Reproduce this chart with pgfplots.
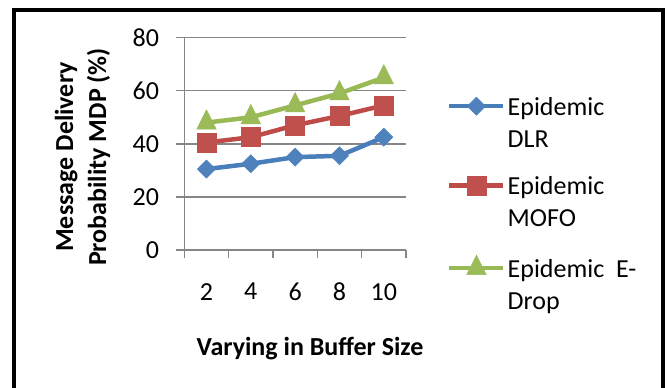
\documentclass[border=0pt]{standalone}
\usepackage{fontspec}
\setmainfont{Carlito}
\usepackage{pgfplots}
\pgfplotsset{compat=1.18}

\definecolor{dlrblue}{HTML}{4F81BD}
\definecolor{dlrline}{HTML}{4A7EBB}
\definecolor{mofored}{HTML}{C0504D}
\definecolor{mofoline}{HTML}{BE4B48}
\definecolor{dropgreen}{HTML}{9BBB59}
\definecolor{dropline}{HTML}{98B954}
\definecolor{gridgray}{HTML}{868686}

\begin{document}
\begin{tikzpicture}
\begin{axis}[
  name=main,
  scale only axis, width=221.7pt, height=212.3pt,
  xmin=-0.5, xmax=4.5, ymin=0, ymax=80,
  axis x line*=bottom, axis y line*=left,
  axis line style={draw=gridgray, line width=1.3pt, -},
  xtick={-0.5,0.5,1.5,2.5,3.5,4.5},
  xticklabels={},
  extra x ticks={0,1,2,3,4},
  extra x tick labels={2,4,6,8,10},
  extra x tick style={major tick length=0pt,
    xticklabel style={yshift=-33pt}},
  ytick={0,20,40,60,80},
  ymajorgrids,
  grid style={draw=gridgray, line width=1.3pt},
  tick align=outside,
  major tick length=8pt,
  tick style={draw=gridgray, line width=1.3pt},
  /pgf/number format/assume math mode=true,
  tick label style={font=\fontsize{26}{31}\selectfont, inner sep=0pt},
  yticklabel style={xshift=-17pt},
  xlabel={Varying in Buffer Size},
  xlabel style={at={(axis description cs:0.567,-0.499)}, anchor=base,
    font=\bfseries\fontsize{26}{31}\selectfont, inner sep=0pt},
  ylabel={Message Delivery\\Probability MDP (\%)},
  ylabel style={at={(axis description cs:-0.459,0.438)}, anchor=center,
    align=center, font=\bfseries\fontsize{26}{33}\selectfont, inner sep=0pt},
  legend style={at={(axis description cs:1.185,0.721)}, anchor=north west,
    draw=none, fill=none, inner sep=0pt, row sep=27pt, column sep=2pt,
    font=\fontsize{26}{32}\selectfont,
    nodes={inner sep=0pt, align=left},
    cells={anchor=north west}},
  legend image code/.code={
    \draw[mark repeat=2,mark phase=2,#1]
      plot coordinates {(0pt,-9pt) (27pt,-9pt) (54pt,-9pt)};
  },
]
\addplot[draw=dlrline, line width=4.5pt, mark=square*, mark size=6.4pt,
  mark options={solid, rotate=45, fill=dlrblue, draw=dlrblue, line width=0.5pt}]
  coordinates {(0,30.5) (1,32.5) (2,35) (3,35.5) (4,42.5)};
\addlegendentry{Epidemic\\DLR}

\addplot[draw=mofoline, line width=4.5pt, mark=square*, mark size=9.5pt,
  mark options={solid, fill=mofored, draw=mofored, line width=0.5pt}]
  coordinates {(0,40.5) (1,42.5) (2,47) (3,50.5) (4,54.5)};
\addlegendentry{Epidemic\\MOFO}

\addplot[draw=dropline, line width=4.5pt, mark=triangle*, mark size=11.2pt,
  mark options={solid, yscale=1.15, fill=dropgreen, draw=dropgreen, line width=0.5pt}]
  coordinates {(0,48) (1,50) (2,54.5) (3,59) (4,65)};
\addlegendentry{Epidemic\ \ E-\\Drop}
\end{axis}
% page extent and chart frame, measured from the plot area's lower-left corner
\begin{scope}[shift={(main.south west)}, x=1pt, y=1pt]
  \path[use as bounding box] (-184.3,-138) rectangle (485.7,250);
  \draw[line width=4.5pt] (-170.3,-143) -- (-170.3,240) -- (478.7,240) -- (478.7,-143);
\end{scope}
\end{tikzpicture}
\end{document}
